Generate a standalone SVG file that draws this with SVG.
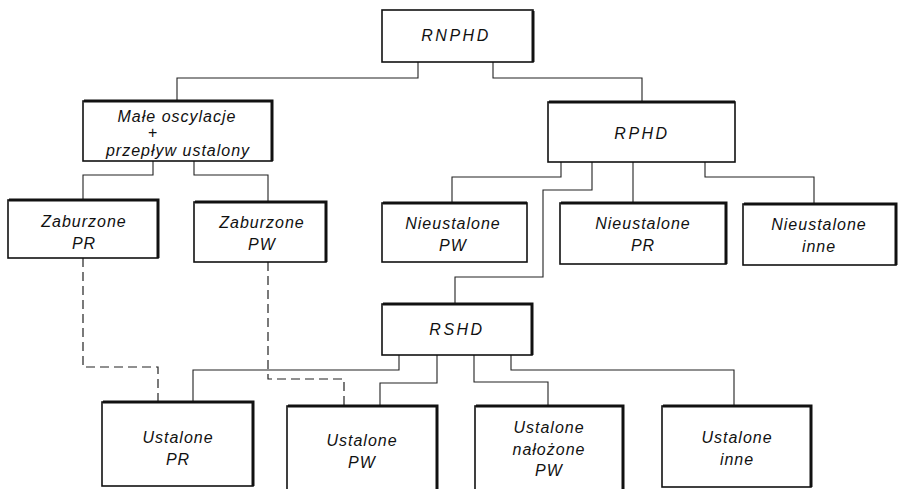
<svg xmlns="http://www.w3.org/2000/svg" width="905" height="489" viewBox="0 0 905 489">
<style>
.box{fill:#fff;stroke:#111;stroke-width:1.6}
.edge{stroke:#111;stroke-width:3;fill:none}
.t{font-family:"Liberation Sans",Arial,sans-serif;font-style:italic;font-size:16px;fill:#111;text-anchor:middle;letter-spacing:1px}
.w{letter-spacing:2.5px}
.c{fill:none;stroke:#222;stroke-width:1.1}
.d{fill:none;stroke:#222;stroke-width:1.2;stroke-dasharray:9 5}
</style>
<rect width="905" height="489" fill="#fff"/>
<g id="connectors">
<path class="c" d="M418 62V78H177V101"/>
<path class="c" d="M493 62V78H642V102"/>
<path class="c" d="M153 161V175H83V200"/>
<path class="c" d="M194 161V175H268V202"/>
<path class="c" d="M561 162V177H452V203"/>
<path class="c" d="M592 162V190H543V277H455V304"/>
<path class="c" d="M633 162V203"/>
<path class="c" d="M705 162V177H814V204"/>
<path class="c" d="M399 355V370H193V402"/>
<path class="c" d="M437 355V383H380V406"/>
<path class="c" d="M474 355V382H548V406"/>
<path class="c" d="M511 355V370H734V406"/>
<path class="d" d="M83 258V367H158V402"/>
<path class="d" d="M268 262V379H344V406"/>
</g>
<g id="rnphd"><rect class="box" x="382" y="10" width="151" height="52"/><path class="edge" d="M533 11V62"/><text class="t w" x="456" y="41">RNPHD</text></g>
<g id="male"><rect class="box" x="83" y="101" width="189" height="60"/><path class="edge" d="M84 101H272V161"/><text class="t" x="177" y="122" font-size="15">Małe oscylacje</text><text class="t" x="153" y="138" font-size="11">+</text><text class="t" x="178" y="156" font-size="15">przepływ ustalony</text></g>
<g id="rphd"><rect class="box" x="548" y="102" width="187" height="60"/><path class="edge" d="M549 102H735"/><text class="t w" x="642" y="139">RPHD</text></g>
<g id="zab-pr"><rect class="box" x="8" y="200" width="150" height="58"/><path class="edge" d="M9 200H158V258"/><text class="t" x="84" y="227">Zaburzone</text><text class="t" x="84" y="249">PR</text></g>
<g id="zab-pw"><rect class="box" x="194" y="202" width="132" height="60"/><path class="edge" d="M195 202H326V262"/><text class="t" x="262" y="228">Zaburzone</text><text class="t" x="262" y="250">PW</text></g>
<g id="nieu-pw"><rect class="box" x="382" y="203" width="145" height="59"/><path class="edge" d="M383 203H527"/><text class="t" x="453" y="229">Nieustalone</text><text class="t" x="453" y="251">PW</text></g>
<g id="nieu-pr"><rect class="box" x="560" y="203" width="166" height="61"/><path class="edge" d="M561 203H726V264"/><text class="t" x="643" y="229">Nieustalone</text><text class="t" x="643" y="251">PR</text></g>
<g id="nieu-inne"><rect class="box" x="743" y="204" width="153" height="61"/><path class="edge" d="M744 204H896V265"/><text class="t" x="819" y="230">Nieustalone</text><text class="t" x="819" y="252">inne</text></g>
<g id="rshd"><rect class="box" x="382" y="304" width="150" height="51"/><path class="edge" d="M383 304H532V355"/><text class="t w" x="457" y="335">RSHD</text></g>
<g id="ust-pr"><rect class="box" x="102" y="402" width="151" height="84"/><path class="edge" d="M103 402H253V486"/><text class="t" x="178" y="443">Ustalone</text><text class="t" x="178" y="465">PR</text></g>
<g id="ust-pw"><rect class="box" x="287" y="406" width="150" height="86"/><path class="edge" d="M288 406H437V489"/><text class="t" x="362" y="446">Ustalone</text><text class="t" x="362" y="468">PW</text></g>
<g id="ust-nal"><rect class="box" x="475" y="406" width="148" height="86"/><path class="edge" d="M476 406H623V489"/><text class="t" x="549" y="433">Ustalone</text><text class="t" x="549" y="455">nałożone</text><text class="t" x="549" y="476">PW</text></g>
<g id="ust-inne"><rect class="box" x="662" y="406" width="149" height="81"/><path class="edge" d="M663 406H811V487"/><text class="t" x="737" y="443">Ustalone</text><text class="t" x="737" y="465">inne</text></g>
</svg>
